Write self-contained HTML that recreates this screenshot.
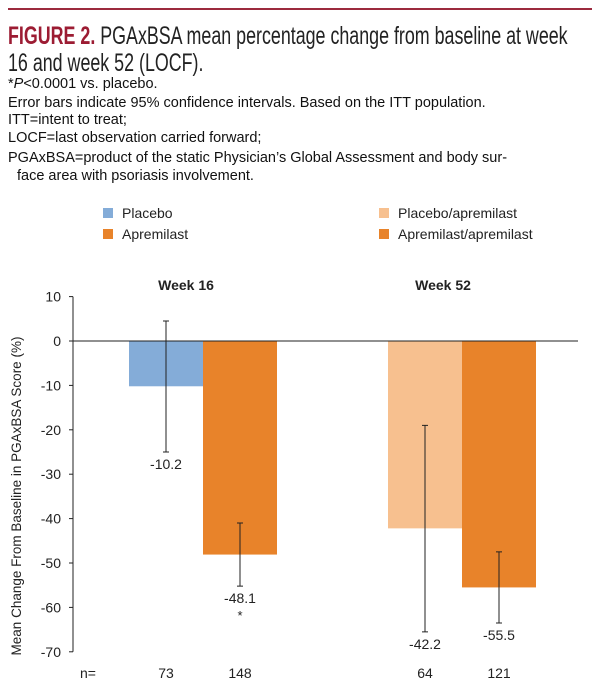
<!DOCTYPE html>
<html><head><meta charset="utf-8"><style>
body{margin:0;background:#fff;width:600px;height:696px;overflow:hidden;font-family:"Liberation Sans",sans-serif;}
#hdr{position:absolute;left:8px;top:8px;width:584px;height:2px;background:#9c2a3e;}
.t{position:absolute;left:8px;font-size:25px;color:#222;transform:scaleX(0.714);transform-origin:left top;white-space:nowrap;}
.t b{color:#9c1c33;}
.n{position:absolute;left:8px;font-size:14.5px;color:#111;white-space:nowrap;}
</style></head><body>
<div id="hdr"></div>
<div class="t" style="top:22px"><b>FIGURE 2.</b> PGAxBSA mean percentage change from baseline at week</div>
<div class="t" style="top:49px;">16 and week 52 (LOCF).</div>
<div class="n" style="top:76px">*<i>P</i>&lt;0.0001 vs. placebo.</div>
<div class="n" style="top:95px">Error bars indicate 95% confidence intervals. Based on the ITT population.</div>
<div class="n" style="top:112px">ITT=intent to treat;</div>
<div class="n" style="top:130px">LOCF=last observation carried forward;</div>
<div class="n" style="top:150px">PGAxBSA=product of the static Physician’s Global Assessment and body sur-</div>
<div class="n" style="top:168px;left:17px">face area with psoriasis involvement.</div>
<svg id="chart" width="600" height="696" style="position:absolute;left:0;top:0"></svg>
<script>
const groups=["Week 16","Week 52"];
const seriesNames=["Placebo","Apremilast","Placebo/apremilast","Apremilast/apremilast"];
const values=[-10.2,-48.1,-42.2,-55.5];
const errHigh=[4.5,-41,-19,-47.5];
const errLow=[-25,-55.2,-65.5,-63.5];
const labels=["-10.2","-48.1","-42.2","-55.5"];
const nValues=["73","148","64","121"];
const yTicks=[10,0,-10,-20,-30,-40,-50,-60,-70];
const colors=["#84acd8","#e8832a","#f7c08f","#e8832a"];
const svg=document.getElementById('chart');const NS='http://www.w3.org/2000/svg';
function mk(t,a,txt){const e=document.createElementNS(NS,t);for(const k in a)e.setAttribute(k,a[k]);if(txt!==undefined)e.textContent=txt;svg.appendChild(e);return e;}
const y=v=>341-v*4.44;
const barX=[129,203,388,462],bw=74;
let e;
e=mk('line',{x1:73,y1:y(10),x2:73,y2:y(-70),stroke:'#222'});

yTicks.forEach(t=>{
 e=mk('line',{x1:69,y1:y(t),x2:73,y2:y(t),stroke:'#222'});
 
 e=mk('text',{x:61,y:y(t)+5,'text-anchor':'end','font-size':14,fill:'#222'},String(t));
 
});
e=mk('text',{x:0,y:0,'font-size':13.5,fill:'#222','text-anchor':'middle',transform:'translate(21,496) rotate(-90)'},'Mean Change From Baseline in PGAxBSA Score (%)');

values.forEach((v,i)=>{
 e=mk('rect',{x:barX[i],y:y(0),width:bw,height:y(v)-y(0),fill:colors[i]});
 
 const cx=barX[i]+bw/2;
 e=mk('path',{d:`M${cx},${y(errHigh[i])}V${y(errLow[i])}M${cx-3},${y(errHigh[i])}H${cx+3}M${cx-3},${y(errLow[i])}H${cx+3}`,stroke:'#222',fill:'none'});
 
 e=mk('text',{x:cx,y:y(errLow[i])+17,'text-anchor':'middle','font-size':14,fill:'#222'},labels[i]);
 
 e=mk('text',{x:cx,y:678,'text-anchor':'middle','font-size':14,fill:'#222'},nValues[i]);
 
});
e=mk('text',{x:barX[1]+bw/2,y:y(errLow[1])+34,'text-anchor':'middle','font-size':13,fill:'#222'},'*');

e=mk('line',{x1:73,y1:y(0),x2:578,y2:y(0),stroke:'#222'});

e=mk('text',{x:80,y:678,'font-size':14,fill:'#222'},'n=');

groups.forEach((g,i)=>{
 e=mk('text',{x:[186,443][i],y:290,'text-anchor':'middle','font-size':14,'font-weight':'bold',fill:'#222'},g);
 
});
const lx=[103,103,379,379],ly=[213,234,213,234];
seriesNames.forEach((s,i)=>{
 e=mk('rect',{x:lx[i],y:ly[i]-5,width:10,height:10,fill:colors[i]});
 
 e=mk('text',{x:lx[i]+19,y:ly[i]+5,'font-size':14,fill:'#222'},s);
 
});
</script>
</body></html>
